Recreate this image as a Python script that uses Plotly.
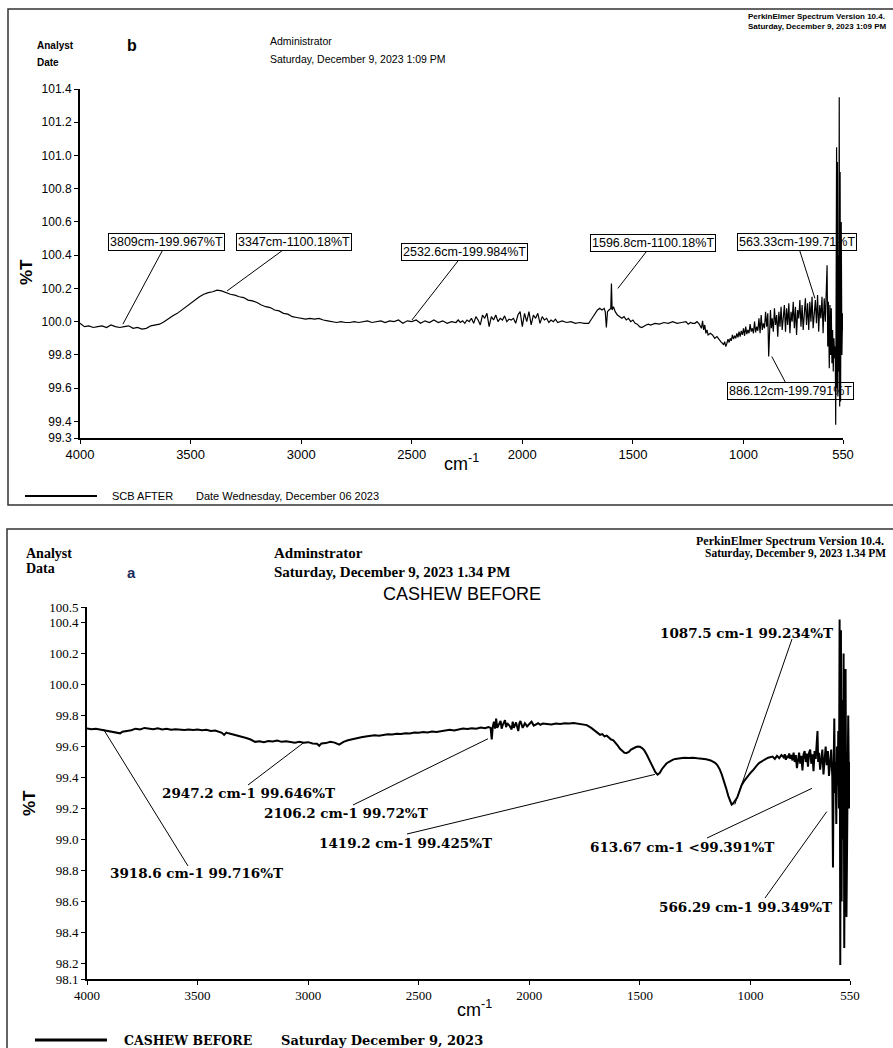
import plotly.graph_objects as go

# ---------------- data: panel b (SCB AFTER) ----------------
wn_b = [4000, 3980, 3960, 3940, 3920, 3900, 3880, 3860, 3840, 3820,
        3800, 3780, 3760, 3740, 3720, 3700, 3680, 3660, 3640, 3620,
        3600, 3580, 3560, 3540, 3520, 3500, 3480, 3460, 3440, 3420,
        3400, 3380, 3360, 3340, 3320, 3300, 3280, 3260, 3240, 3220,
        3200, 3180, 3160, 3140, 3120, 3100, 3080, 3060, 3040, 3020,
        3000, 2980, 2960, 2940, 2920, 2900, 2880, 2860, 2840, 2820,
        2800, 2780, 2760, 2740, 2720, 2700, 2680, 2660, 2640, 2620,
        2600, 2580, 2560, 2540, 2520, 2500, 2480, 2460, 2440, 2420,
        2400, 2380, 2360, 2340, 2320, 2300,
        2290, 2280, 2270, 2260, 2250, 2240, 2230, 2220, 2210, 2200,
        2190, 2180, 2170, 2160, 2150, 2140, 2130, 2120, 2110, 2100,
        2090, 2080, 2070, 2060, 2050, 2040, 2030, 2020, 2010, 2000,
        1990, 1980, 1970, 1960, 1950, 1940, 1930, 1920, 1910, 1900,
        1890, 1880, 1870, 1860, 1850, 1840, 1820, 1800, 1780, 1760,
        1740, 1720, 1700, 1690, 1680, 1670, 1660, 1650, 1640, 1630,
        1625, 1620, 1615, 1608, 1600, 1597, 1594, 1588, 1580, 1570,
        1560, 1550, 1540, 1530, 1520, 1510, 1500, 1490, 1480, 1470,
        1460, 1450, 1440, 1430, 1420, 1400, 1380, 1360, 1340, 1320,
        1300, 1280, 1260, 1250, 1240, 1230, 1220, 1210, 1200, 1190,
        1185, 1180, 1175, 1170, 1165, 1160, 1150, 1140, 1130, 1120,
        1110, 1100, 1095, 1090, 1085, 1080, 1075, 1070, 1065, 1060,
        1055, 1050, 1045, 1040, 1035, 1030, 1025, 1020, 1015, 1010,
        1005, 1000, 995, 990, 985, 980, 975, 970, 965, 960,
        955, 950, 945, 940, 935, 930, 925, 920, 915, 910,
        905, 900, 895, 890, 886, 882, 878, 874, 870, 865,
        860, 855, 850, 845, 840, 835, 830, 825, 820, 815,
        810, 805, 800, 795, 790, 785, 780, 775, 770, 765,
        760, 755, 750, 745, 740, 735, 730, 725, 720, 715,
        710, 705, 700, 695, 690, 685, 680, 675, 670, 665,
        660, 655, 650, 645, 640, 635, 630, 625, 622, 619,
        616, 612, 609, 606, 603, 600, 597, 594, 591, 588,
        585, 583, 581, 579, 577, 575, 573, 571, 569, 567,
        565, 563, 561, 558, 555, 552, 550]

t_b = [99.99, 99.97, 99.975, 99.965, 99.97, 99.975, 99.965, 99.98, 99.97, 99.965,
       99.97, 99.975, 99.96, 99.965, 99.955, 99.96, 99.975, 99.98, 99.985, 100.0,
       100.02, 100.035, 100.05, 100.07, 100.095, 100.115, 100.13, 100.15, 100.165, 100.175,
       100.18, 100.19, 100.185, 100.175, 100.165, 100.16, 100.15, 100.145, 100.13, 100.125,
       100.115, 100.1, 100.09, 100.085, 100.07, 100.065, 100.05, 100.045, 100.03, 100.025,
       100.02, 100.015, 100.02, 100.015, 100.02, 100.01, 100.005, 100.0, 99.995, 100.0,
       99.995, 99.995, 100.0, 99.995, 100.0, 100.005, 99.995, 100.0, 100.005, 99.995,
       100.005, 100.0, 100.01, 99.99, 100.005, 100.0, 100.01, 99.99, 100.005, 99.995,
       100.01, 99.995, 100.005, 99.99, 100.0, 99.995,
       100.01, 99.995, 100.005, 99.99, 100.01, 100.0, 100.02, 99.99, 100.03, 100.01,
       99.98, 100.04, 100.02, 100.05, 99.97, 100.03, 100.01, 100.04, 100.0, 100.02,
       100.01, 100.035, 100.0, 100.015, 100.01, 100.02, 99.99, 100.04, 100.06, 99.97,
       100.05, 100.0, 100.06, 99.98, 100.04, 100.02, 100.05, 99.99, 100.03, 100.01,
       100.02, 99.995, 100.01, 100.0, 100.015, 99.995, 100.005, 99.995, 100.0, 99.99,
       99.995, 99.99, 99.99, 100.01, 100.03, 100.05, 100.07, 100.08, 100.07, 100.08,
       100.06, 99.965, 100.06, 100.07, 100.08, 100.23, 100.07, 100.09, 100.06, 100.04,
       100.03, 100.02, 100.03, 100.01, 100.02, 100.0, 100.01, 99.99, 99.985, 99.97,
       99.965, 99.975, 99.98, 99.985, 99.98, 99.99, 99.985, 99.995, 99.99, 100.0,
       99.99, 99.995, 100.0, 99.985, 99.995, 99.99, 99.99, 100.0, 99.985, 99.96,
       100.005, 99.95, 99.98, 99.93, 99.95, 99.92, 99.93, 99.92, 99.9, 99.91,
       99.89, 99.875, 99.87, 99.86, 99.88, 99.85, 99.87, 99.895, 99.875, 99.9,
       99.885, 99.92, 99.895, 99.915, 99.9, 99.93, 99.905, 99.94, 99.91, 99.945,
       99.92, 99.96, 99.915, 99.97, 99.925, 99.95, 99.93, 99.985, 99.94, 99.96,
       99.93, 100.0, 99.935, 99.97, 99.945, 100.02, 99.93, 100.04, 99.95, 99.99,
       99.96, 100.06, 99.97, 100.05, 99.79, 100.0, 100.07, 99.96, 100.02, 99.94,
       100.08, 99.98, 100.04, 99.91, 100.06, 99.97, 100.09, 99.95, 100.03, 100.1,
       99.94, 100.08, 99.98, 100.11, 99.93, 100.06, 100.0, 100.12, 99.96, 100.09,
       99.92, 100.07, 100.02, 100.13, 99.97, 100.1, 99.95, 100.05, 100.14, 99.98,
       100.11, 99.95, 100.12, 100.0, 100.15, 99.96, 100.08, 100.13, 99.99, 100.16,
       99.94, 100.1, 100.02, 100.15, 99.93, 100.14, 100.0, 100.16, 100.34, 99.85,
       100.12, 99.72, 100.1, 99.8, 100.08, 99.75, 99.95, 99.7, 99.9, 99.78,
       99.85, 99.38, 100.0, 101.05, 99.6, 100.96, 99.55, 100.4, 99.7, 101.35,
       99.49, 100.9, 99.52, 100.6, 99.8, 100.05, 99.95]

# ---------------- data: panel a (CASHEW BEFORE) ----------------
wn_a = [4000, 3980, 3960, 3940, 3920, 3900, 3880, 3860, 3850, 3840,
        3820, 3800, 3780, 3760, 3740, 3720, 3700, 3680, 3660, 3640,
        3620, 3600, 3580, 3560, 3540, 3520, 3500, 3480, 3460, 3440,
        3420, 3400, 3390, 3380, 3370, 3360, 3340, 3320, 3300, 3280,
        3260, 3250, 3240, 3220, 3200, 3180, 3160, 3140, 3120, 3100,
        3080, 3060, 3040, 3020, 3000, 2980, 2960, 2950, 2940, 2920,
        2900, 2880, 2860, 2840, 2820, 2800, 2780, 2760, 2740, 2720,
        2700, 2680, 2660, 2640, 2620, 2600, 2580, 2560, 2540, 2520,
        2500, 2480, 2460, 2440, 2420, 2400, 2380, 2360, 2340, 2320,
        2300, 2280, 2260, 2240, 2220, 2200, 2185, 2175, 2170, 2165,
        2160, 2155, 2150, 2145, 2140, 2130, 2125, 2120, 2110, 2105,
        2100, 2090, 2080, 2075, 2070, 2060, 2050, 2045, 2040, 2030,
        2020, 2010, 2000, 1990, 1980, 1970, 1960, 1950, 1940, 1920,
        1900, 1880, 1860, 1840, 1820, 1800, 1780, 1760, 1740, 1720,
        1700, 1690, 1680, 1670, 1660, 1650, 1640, 1630, 1620, 1610,
        1600, 1590, 1580, 1570, 1560, 1550, 1540, 1530, 1520, 1510,
        1500, 1490, 1480, 1470, 1460, 1450, 1440, 1430, 1420, 1410,
        1400, 1390, 1380, 1370, 1360, 1350, 1340, 1320, 1300, 1280,
        1260, 1240, 1220, 1200, 1180, 1160, 1150, 1140, 1130, 1120,
        1110, 1100, 1090, 1085, 1080, 1075, 1070, 1060, 1050, 1040,
        1030, 1020, 1010, 1000, 990, 980, 970, 960, 950, 940,
        930, 920, 910, 900, 890, 880, 870, 860, 850, 845,
        840, 835, 830, 825, 820, 815, 810, 805, 800, 795,
        790, 785, 780, 775, 770, 765, 760, 755, 750, 745,
        740, 735, 730, 725, 720, 715, 710, 705, 700, 697,
        694, 690, 685, 680, 675, 670, 665, 660, 655, 650,
        645, 640, 635, 630, 627, 624, 621, 618, 615, 612,
        609, 606, 603, 600, 597, 594, 591, 588, 585, 582,
        579, 576, 573, 570, 566, 562, 558, 554, 550]

t_a = [99.716, 99.712, 99.715, 99.71, 99.705, 99.70, 99.695, 99.69, 99.685, 99.695,
       99.70, 99.705, 99.715, 99.71, 99.72, 99.715, 99.712, 99.718, 99.71, 99.714,
       99.708, 99.712, 99.71, 99.706, 99.71, 99.707, 99.709, 99.705, 99.708, 99.70,
       99.703, 99.696, 99.688, 99.675, 99.69, 99.685, 99.678, 99.672, 99.665, 99.655,
       99.645, 99.635, 99.63, 99.634, 99.628, 99.635, 99.632, 99.638, 99.63, 99.634,
       99.628, 99.625, 99.63, 99.624, 99.628, 99.62, 99.618, 99.605, 99.62, 99.622,
       99.63, 99.625, 99.612, 99.63, 99.64, 99.648, 99.655, 99.66, 99.664, 99.668,
       99.672, 99.67, 99.676, 99.679, 99.677, 99.682, 99.68, 99.686, 99.684, 99.69,
       99.688, 99.693, 99.69, 99.696, 99.694, 99.70, 99.702, 99.708, 99.704, 99.712,
       99.716, 99.713, 99.718, 99.715, 99.722, 99.718, 99.725, 99.72, 99.645, 99.73,
       99.76, 99.715, 99.78, 99.72, 99.735, 99.765, 99.715, 99.74, 99.77, 99.725,
       99.75, 99.735, 99.71, 99.76, 99.72, 99.755, 99.70, 99.75, 99.765, 99.72,
       99.75, 99.73, 99.745, 99.76, 99.735, 99.745, 99.75, 99.74, 99.748, 99.745,
       99.742, 99.748, 99.745, 99.75, 99.748, 99.752, 99.748, 99.745, 99.738, 99.72,
       99.70, 99.69, 99.675, 99.68, 99.665, 99.67, 99.655, 99.645, 99.64, 99.625,
       99.605, 99.585, 99.57, 99.56, 99.558, 99.565, 99.58, 99.59, 99.595, 99.60,
       99.598, 99.59, 99.575, 99.55, 99.52, 99.49, 99.46, 99.435, 99.418, 99.43,
       99.455, 99.475, 99.49, 99.50, 99.51, 99.515, 99.52, 99.525, 99.528, 99.526,
       99.528, 99.524, 99.522, 99.518, 99.51, 99.495, 99.48, 99.455, 99.42, 99.38,
       99.33, 99.28, 99.235, 99.225, 99.23, 99.245, 99.25, 99.27, 99.31, 99.35,
       99.375, 99.395, 99.41, 99.43, 99.445, 99.465, 99.48, 99.495, 99.505, 99.515,
       99.52, 99.528, 99.53, 99.535, 99.52, 99.54, 99.525, 99.545, 99.53, 99.55,
       99.515, 99.54, 99.525, 99.555, 99.52, 99.545, 99.51, 99.56, 99.5, 99.545,
       99.46, 99.53, 99.56, 99.49, 99.54, 99.445, 99.55, 99.57, 99.5, 99.555,
       99.47, 99.56, 99.58, 99.49, 99.55, 99.44, 99.57, 99.52, 99.6, 99.70,
       99.5, 99.56, 99.45, 99.54, 99.58, 99.42, 99.55, 99.6, 99.48, 99.57,
       99.41, 99.53, 99.58, 99.4, 98.82, 99.45, 99.78, 99.3, 99.5, 99.1,
       99.6, 99.35, 99.7, 99.2, 100.42, 98.19, 100.35, 98.6, 99.9, 99.0,
       100.2, 98.3, 99.7, 100.1, 98.5, 99.4, 99.8, 99.2, 99.5]

x_ticks = [4000, 3500, 3000, 2500, 2000, 1500, 1000, 550]
y_ticks_b = [99.3, 99.4, 99.6, 99.8, 100.0, 100.2, 100.4, 100.6, 100.8, 101.0, 101.2, 101.4]
y_ticks_a = [98.1, 98.2, 98.4, 98.6, 98.8, 99.0, 99.2, 99.4, 99.6, 99.8, 100.0, 100.2, 100.4, 100.5]

# peak labels: text, label centre (px), pointer head (wavenumber, %T)
labels_b = [
    ("3809cm-199.967%T", 167, 242, 3806, 99.985),
    ("3347cm-1100.18%T", 294, 242, 3335, 100.185),
    ("2532.6cm-199.984%T", 465, 252, 2499, 100.01),
    ("1596.8cm-1100.18%T", 653, 243, 1568, 100.2),
    ("563.33cm-199.71%T", 797, 242, 677, 100.14),
    ("886.12cm-199.791%T", 790, 391, 872, 99.79),
]
# text, text centre (px), pointer tail (px), pointer head (wavenumber, %T)
labels_a = [
    ("3918.6 cm-1 99.716%T", 196, 873, 188, 866, 3925, 99.71),
    ("2947.2 cm-1 99.646%T", 248, 793, 248, 785, 3020, 99.625),
    ("2106.2 cm-1 99.72%T", 346, 813, 353, 805, 2187, 99.65),
    ("1419.2 cm-1 99.425%T", 405, 843, 407, 834, 1432, 99.42),
    ("1087.5 cm-1 99.234%T", 746, 633, 792, 639, 1071, 99.226),
    ("613.67 cm-1 <99.391%T", 682, 847, 707, 838, 722, 99.33),
    ("566.29 cm-1 99.349%T", 745, 907, 765, 898, 655, 99.18),
]

# ---------------- geometry ----------------
W, H = 893, 1048
def PX(x): return x / W
def PY(y): return 1 - y / H

TX0, TX1, TYB, TYT = 80, 843, 438, 89
BX0, BX1, BYB, BYT = 87, 850, 979, 607
T_RANGE = (99.3, 101.4)
B_RANGE = (98.1, 100.5)

def tpx(w): return TX0 + (4000 - w) * (TX1 - TX0) / 3450
def tpy(t): return TYB - (t - T_RANGE[0]) * (TYB - TYT) / (T_RANGE[1] - T_RANGE[0])
# pixel -> data for panel a (pointer tails)
def b_wn(px): return 4000 - (px - BX0) * 3450 / (BX1 - BX0)
def b_t(py): return B_RANGE[0] + (BYB - py) * (B_RANGE[1] - B_RANGE[0]) / (BYB - BYT)

SANS = "Liberation Sans, Arial, sans-serif"
SERIF = "Liberation Serif, Times New Roman, serif"
DSERIF = "DejaVu Serif, serif"

fig = go.Figure()
fig.add_trace(go.Scatter(x=wn_b, y=t_b, mode="lines", line=dict(color="black", width=1.2),
                         xaxis="x", yaxis="y", showlegend=False, hoverinfo="skip"))
fig.add_trace(go.Scatter(x=wn_a, y=t_a, mode="lines", line=dict(color="black", width=2),
                         xaxis="x2", yaxis="y2", showlegend=False, hoverinfo="skip"))

axis_common = dict(showgrid=False, zeroline=False, showline=True, linecolor="black",
                   ticks="outside", ticklen=4, tickcolor="black", mirror=False, automargin=False)

fig.update_layout(
    template="none",
    width=W, height=H, autosize=False,
    margin=dict(l=0, r=0, t=0, b=0, pad=0),
    paper_bgcolor="white", plot_bgcolor="white",
    xaxis=dict(domain=[PX(TX0), PX(TX1)], range=[4000, 550], anchor="y",
               tickvals=x_ticks, ticktext=[str(v) for v in x_ticks], linewidth=1.5,
               tickfont=dict(family=SANS, size=13, color="black"), **axis_common),
    yaxis=dict(domain=[PY(TYB), PY(TYT)], range=list(T_RANGE), anchor="x",
               tickvals=y_ticks_b, ticktext=[f"{v:.1f}" for v in y_ticks_b], linewidth=2,
               tickfont=dict(family=SANS, size=12, color="black"), **axis_common),
    xaxis2=dict(domain=[PX(BX0), PX(BX1)], range=[4000, 550], anchor="y2",
                tickvals=x_ticks, ticktext=[str(v) for v in x_ticks], linewidth=1.8,
                tickfont=dict(family=SERIF, size=13, color="black"), **axis_common),
    yaxis2=dict(domain=[PY(BYB), PY(BYT)], range=list(B_RANGE), anchor="x2",
                tickvals=y_ticks_a, ticktext=[f"{v:.1f}" for v in y_ticks_a], linewidth=2,
                tickfont=dict(family=SERIF, size=13, color="black"), **axis_common),
)

shapes = [
    dict(type="rect", xref="paper", yref="paper", x0=PX(8), x1=PX(905), y0=PY(505), y1=PY(9),
         line=dict(color="#333", width=1.5), fillcolor="rgba(0,0,0,0)", layer="below"),
    dict(type="rect", xref="paper", yref="paper", x0=PX(7), x1=PX(905), y0=PY(1060), y1=PY(529),
         line=dict(color="#333", width=1.5), fillcolor="rgba(0,0,0,0)", layer="below"),
    dict(type="line", xref="paper", yref="paper", x0=PX(25), x1=PX(97), y0=PY(496), y1=PY(496),
         line=dict(color="black", width=2)),
    dict(type="line", xref="paper", yref="paper", x0=PX(35), x1=PX(107), y0=PY(1040), y1=PY(1040),
         line=dict(color="black", width=3)),
]
# pointer lines for panel a labels
for s, cx, cy, tx, ty, hw, ht in labels_a:
    shapes.append(dict(type="line", xref="x2", yref="y2", x0=hw, y0=ht, x1=b_wn(tx), y1=b_t(ty),
                       line=dict(color="black", width=1)))
fig.update_layout(shapes=shapes)

ann = []
def text(x, y, s, size, family=SANS, color="black", xanchor="left", angle=0, bold=False):
    ann.append(dict(x=PX(x), y=PY(y), xref="paper", yref="paper", text=(f"<b>{s}</b>" if bold else s),
                    showarrow=False, xanchor=xanchor, yanchor="middle", textangle=angle,
                    font=dict(family=family, size=size, color=color)))

# panel b header
text(35, 46, "Analyst", 10, bold=True)
text(35, 63, "Date", 10, bold=True)
text(125, 45, "b", 16, bold=True)
text(268, 41, "Administrator", 10.5)
text(268, 59, "Saturday, December 9, 2023 1:09 PM", 10.5)
text(746, 17, "PerkinElmer Spectrum Version 10.4.", 8, bold=True)
text(746, 26, "Saturday, December 9, 2023 1:09 PM", 8, bold=True)
text(26, 272, "%T", 17, angle=-90, xanchor="center", bold=True)
text(442, 462, "cm<sup>-1</sup>", 18, xanchor="left")
text(110, 496, "SCB AFTER", 11)
text(194, 496, "Date Wednesday, December 06 2023", 11)

# panel a header
text(24, 553, "Analyst", 14, family=SERIF, bold=True)
text(24, 568, "Data", 14, family=SERIF, bold=True)
text(125, 572, "a", 15, color="#1c2a5c", bold=True)
text(272, 553, "Adminstrator", 15, family=SERIF, bold=True)
text(272, 572, "Saturday, December 9, 2023 1.34 PM", 15, family=SERIF, bold=True)
text(462, 594, "CASHEW BEFORE", 18, xanchor="center")
text(694, 541, "PerkinElmer Spectrum Version 10.4.", 12, family=SERIF, bold=True)
text(703, 553, "Saturday, December 9, 2023 1.34 PM", 11.5, family=SERIF, bold=True)
text(29, 803, "%T", 17, angle=-90, xanchor="center", bold=True)
text(455, 1008, "cm<sup>-1</sup>", 18)
text(122, 1040, "CASHEW BEFORE", 12.5, family=DSERIF, bold=True)
text(279, 1040, "Saturday December 9, 2023", 13, family=DSERIF, bold=True)

# boxed peak labels, panel b
for s, cx, cy, hw, ht in labels_b:
    ann.append(dict(x=hw, y=ht, xref="x", yref="y", text=s, showarrow=True, arrowhead=0,
                    arrowwidth=1, arrowcolor="black", ax=cx - tpx(hw), ay=cy - tpy(ht),
                    bordercolor="black", borderwidth=1, borderpad=1, bgcolor="rgba(255,255,255,0)",
                    font=dict(family=SANS, size=12.5, color="black")))

# peak labels, panel a
for s, cx, cy, tx, ty, hw, ht in labels_a:
    ann.append(dict(x=PX(cx), y=PY(cy), xref="paper", yref="paper", text=f"<b>{s}</b>",
                    showarrow=False, xanchor="center", yanchor="middle",
                    font=dict(family=DSERIF, size=13.5, color="black")))

fig.update_layout(annotations=ann)
fig.write_html("out.html", config={"displayModeBar": False, "staticPlot": True},
               post_script="document.body.style.margin='0';document.body.style.overflow='hidden';")
